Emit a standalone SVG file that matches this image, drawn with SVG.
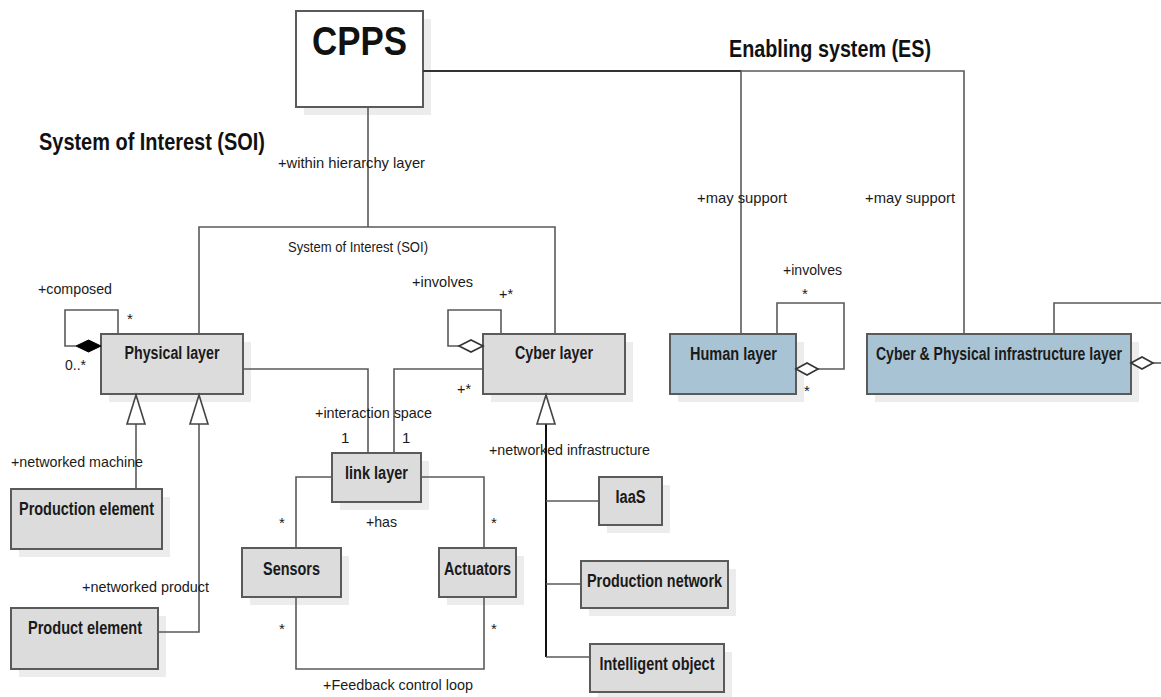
<svg xmlns="http://www.w3.org/2000/svg" width="1161" height="697" viewBox="0 0 1161 697">
<defs>
<style>
.box{fill:#dcdcdc;stroke:#5a5a5a;stroke-width:2}
.blue{fill:#a8c4d4;stroke:#5a5a5a;stroke-width:2}
.sh{fill:#ececec;stroke:none}
.bt{font-family:"Liberation Sans",Arial,sans-serif;font-weight:bold;font-size:18px;fill:#1a1a1a;text-anchor:middle}
.lb{font-family:"Liberation Sans",Arial,sans-serif;font-size:15px;fill:#1a1a1a}
.ttl{font-family:"Liberation Sans",Arial,sans-serif;font-weight:bold;fill:#111}
.ln{fill:none;stroke:#5a5a5a;stroke-width:1.6}
.tri{fill:#fff;stroke:#444;stroke-width:1.6}
</style>
</defs>
<rect width="1161" height="697" fill="#fff"/>

<g id="titles">
<text class="ttl" x="39" y="150" font-size="23" textLength="226" lengthAdjust="spacingAndGlyphs">System of Interest (SOI)</text>
<text class="ttl" x="729" y="57" font-size="23" textLength="202" lengthAdjust="spacingAndGlyphs">Enabling system (ES)</text>
</g>

<g id="cpps">
<rect class="sh" x="304" y="19" width="127" height="96"/>
<rect x="296" y="11" width="127" height="96" fill="#fff" stroke="#5a5a5a" stroke-width="2"/>
<text class="ttl" x="359.5" y="55" font-size="40" text-anchor="middle" textLength="95" lengthAdjust="spacingAndGlyphs">CPPS</text>
</g>

<g id="physical">
<rect class="sh" x="109" y="342" width="142" height="60"/>
<rect class="box" x="101" y="334" width="142" height="60"/>
<text class="bt" x="172" y="359" textLength="95" lengthAdjust="spacingAndGlyphs">Physical layer</text>
</g>

<g id="cyber">
<rect class="sh" x="491" y="342" width="142" height="60"/>
<rect class="box" x="483" y="334" width="142" height="60"/>
<text class="bt" x="554" y="359" textLength="78" lengthAdjust="spacingAndGlyphs">Cyber layer</text>
</g>

<g id="human">
<rect class="sh" x="678" y="342" width="126" height="60"/>
<rect class="blue" x="670" y="334" width="126" height="60"/>
<text class="bt" x="733.5" y="360" textLength="87" lengthAdjust="spacingAndGlyphs">Human layer</text>
</g>

<g id="cpinfra">
<rect class="sh" x="875" y="342" width="264" height="60"/>
<rect class="blue" x="867" y="334" width="264" height="60"/>
<text class="bt" x="999" y="360" textLength="246" lengthAdjust="spacingAndGlyphs">Cyber &amp; Physical infrastructure layer</text>
</g>

<g id="production-element">
<rect class="sh" x="19" y="497" width="151" height="60"/>
<rect class="box" x="11" y="489" width="151" height="60"/>
<text class="bt" x="86.5" y="515" textLength="135" lengthAdjust="spacingAndGlyphs">Production element</text>
</g>

<g id="product-element">
<rect class="sh" x="19" y="616" width="147" height="61"/>
<rect class="box" x="11" y="608" width="147" height="61"/>
<text class="bt" x="85" y="634" textLength="114" lengthAdjust="spacingAndGlyphs">Product element</text>
</g>

<g id="link-layer">
<rect class="sh" x="340" y="461" width="89" height="49"/>
<rect class="box" x="332" y="453" width="89" height="49"/>
<text class="bt" x="376.5" y="479" textLength="63" lengthAdjust="spacingAndGlyphs">link layer</text>
</g>

<g id="sensors">
<rect class="sh" x="250" y="556" width="99" height="49"/>
<rect class="box" x="242" y="548" width="99" height="49"/>
<text class="bt" x="291.5" y="575" textLength="57" lengthAdjust="spacingAndGlyphs">Sensors</text>
</g>

<g id="actuators">
<rect class="sh" x="447" y="556" width="77" height="49"/>
<rect class="box" x="439" y="548" width="77" height="49"/>
<text class="bt" x="477.5" y="575" textLength="67" lengthAdjust="spacingAndGlyphs">Actuators</text>
</g>

<g id="iaas">
<rect class="sh" x="607" y="485" width="63" height="48"/>
<rect class="box" x="599" y="477" width="63" height="48"/>
<text class="bt" x="630.5" y="503" textLength="30" lengthAdjust="spacingAndGlyphs">IaaS</text>
</g>

<g id="production-network">
<rect class="sh" x="589" y="569" width="147" height="47"/>
<rect class="box" x="581" y="561" width="147" height="47"/>
<text class="bt" x="654.5" y="587" textLength="135" lengthAdjust="spacingAndGlyphs">Production network</text>
</g>

<g id="intelligent-object">
<rect class="sh" x="598" y="652" width="134" height="45"/>
<rect class="box" x="590" y="644" width="134" height="48"/>
<text class="bt" x="657" y="670" textLength="115" lengthAdjust="spacingAndGlyphs">Intelligent object</text>
</g>

<g id="connectors">
<path d="M423 71 H741" fill="none" stroke="#333" stroke-width="2.2"/>
<path class="ln" d="M741 71 H964 V334"/>
<path class="ln" d="M741 71 V334"/>
<path class="ln" d="M368 107 V227"/>
<path class="ln" d="M199 334 V227 H555 V334"/>
<path class="ln" d="M118 334 V310 H65 V346 H76"/>
<polygon points="101,346 88.5,340 76,346 88.5,352" fill="#000" stroke="#000" stroke-width="1"/>
<path class="ln" d="M501 334 V310 H448 V346 H459"/>
<polygon points="483,346 471,340 459,346 471,352" fill="#fff" stroke="#333" stroke-width="1.6"/>
<path class="ln" d="M777 334 V303 H844 V369 H818"/>
<polygon points="796,369 807,363 818,369 807,375" fill="#fff" stroke="#333" stroke-width="1.6"/>
<path class="ln" d="M1054 334 V303 H1161"/>
<path class="ln" d="M1153 363 H1161"/>
<polygon points="1131,363 1142,357 1153,363 1142,369" fill="#fff" stroke="#333" stroke-width="1.6"/>
<path class="ln" d="M243 369 H368 V453"/>
<path class="ln" d="M483 369 H394 V453"/>
<path class="ln" d="M136 424 V489"/>
<path class="ln" d="M158 632 H199 V424"/>
<polygon class="tri" points="136,395 127,424 145,424"/>
<polygon class="tri" points="199,395 190,424 208,424"/>
<path d="M546 424 V657" fill="none" stroke="#111" stroke-width="2"/>
<path class="ln" d="M546 501 H599"/>
<path class="ln" d="M546 584 H581"/>
<path class="ln" d="M546 657 H590"/>
<polygon class="tri" points="546,395 537,424 555,424"/>
<path class="ln" d="M332 477 H296 V548"/>
<path class="ln" d="M421 477 H484 V548"/>
<path class="ln" d="M296 597 V669 H484 V597"/>
</g>

<g id="labels">
<text class="lb" x="278" y="168" textLength="147" lengthAdjust="spacingAndGlyphs">+within hierarchy layer</text>
<text class="lb" x="288" y="252" font-size="14" textLength="140" lengthAdjust="spacingAndGlyphs">System of Interest (SOI)</text>
<text class="lb" x="38" y="294" textLength="74" lengthAdjust="spacingAndGlyphs">+composed</text>
<text class="lb" x="127" y="324">*</text>
<text class="lb" x="65" y="370" textLength="21" lengthAdjust="spacingAndGlyphs">0..*</text>
<text class="lb" x="412" y="287" textLength="61" lengthAdjust="spacingAndGlyphs">+involves</text>
<text class="lb" x="499" y="299" textLength="14" lengthAdjust="spacingAndGlyphs">+*</text>
<text class="lb" x="457" y="394" textLength="14" lengthAdjust="spacingAndGlyphs">+*</text>
<text class="lb" x="315" y="418" textLength="117" lengthAdjust="spacingAndGlyphs">+interaction space</text>
<text class="lb" x="341" y="443">1</text>
<text class="lb" x="402" y="443">1</text>
<text class="lb" x="489" y="455" textLength="161" lengthAdjust="spacingAndGlyphs">+networked infrastructure</text>
<text class="lb" x="11" y="467" textLength="132" lengthAdjust="spacingAndGlyphs">+networked machine</text>
<text class="lb" x="82" y="592" textLength="127" lengthAdjust="spacingAndGlyphs">+networked product</text>
<text class="lb" x="279" y="528">*</text>
<text class="lb" x="491" y="528">*</text>
<text class="lb" x="366" y="527" textLength="31" lengthAdjust="spacingAndGlyphs">+has</text>
<text class="lb" x="279" y="634">*</text>
<text class="lb" x="491" y="634">*</text>
<text class="lb" x="323" y="690" textLength="150" lengthAdjust="spacingAndGlyphs">+Feedback control loop</text>
<text class="lb" x="697" y="203" textLength="90" lengthAdjust="spacingAndGlyphs">+may support</text>
<text class="lb" x="865" y="203" textLength="90" lengthAdjust="spacingAndGlyphs">+may support</text>
<text class="lb" x="783" y="275" textLength="59" lengthAdjust="spacingAndGlyphs">+involves</text>
<text class="lb" x="802" y="299">*</text>
<text class="lb" x="804" y="396">*</text>
</g>
</svg>
